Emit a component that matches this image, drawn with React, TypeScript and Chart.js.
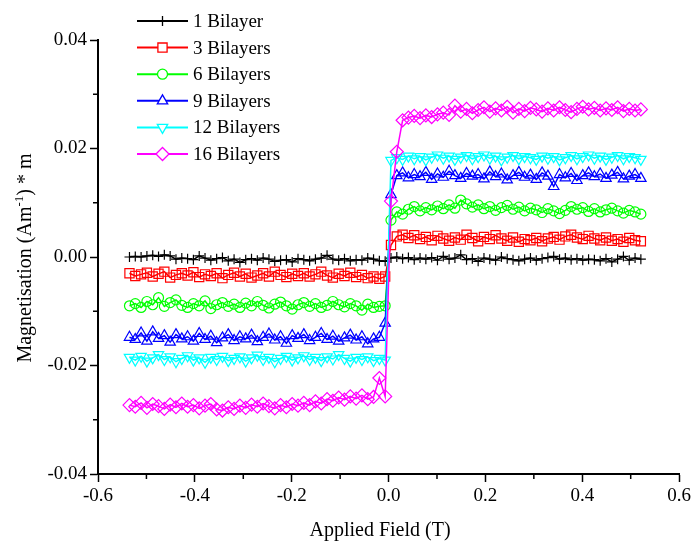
import React, { useEffect, useRef } from 'react';
import { Chart, registerables } from 'chart.js';
import { drawPoint } from 'chart.js/helpers';

Chart.register(...registerables);

const FONT = "'Liberation Serif', 'Times New Roman', serif";

const FIELD = [
  -0.535, -0.523, -0.511, -0.499, -0.487, -0.475, -0.463, -0.451, -0.439, -0.427,
  -0.415, -0.403, -0.391, -0.379, -0.367, -0.355, -0.343, -0.331, -0.319, -0.307,
  -0.295, -0.283, -0.271, -0.259, -0.247, -0.235, -0.223, -0.211, -0.199, -0.187,
  -0.175, -0.163, -0.151, -0.139, -0.127, -0.115, -0.103, -0.091, -0.079, -0.067,
  -0.055, -0.043, -0.031, -0.019, -0.007, 0.005, 0.017, 0.029, 0.041, 0.053,
  0.065, 0.077, 0.089, 0.101, 0.113, 0.125, 0.137, 0.149, 0.161, 0.173,
  0.185, 0.197, 0.209, 0.221, 0.233, 0.245, 0.257, 0.269, 0.281, 0.293,
  0.305, 0.317, 0.329, 0.341, 0.353, 0.365, 0.377, 0.389, 0.401, 0.413,
  0.425, 0.437, 0.449, 0.461, 0.473, 0.485, 0.497, 0.509, 0.521,
];

const BILAYER_1 = [
  0.0000, 0.0001, 0.0000, 0.0002, 0.0003, 0.0001, 0.0004, 0.0002, -0.0004, -0.0002,
  -0.0003, -0.0005, 0.0002, -0.0002, -0.0006, -0.0003, -0.0001, -0.0007, -0.0004, -0.0010,
  -0.0005, -0.0003, -0.0006, -0.0002, -0.0004, -0.0008, -0.0006, -0.0005, -0.0009, -0.0003,
  -0.0005, -0.0007, -0.0004, -0.0002, 0.0003, -0.0004, -0.0006, -0.0003, -0.0007, -0.0005,
  -0.0006, -0.0002, -0.0004, -0.0007, -0.0008, -0.0002, 0.0000, -0.0003, -0.0001, -0.0005,
  -0.0002, -0.0004, -0.0001, -0.0006, 0.0001, -0.0004, -0.0002, 0.0004, -0.0005, -0.0003,
  -0.0008, -0.0002, -0.0004, -0.0006, 0.0000, -0.0003, -0.0005, -0.0007, -0.0004, -0.0002,
  -0.0006, -0.0003, -0.0001, 0.0001, -0.0004, -0.0002, -0.0005, -0.0003, -0.0006, -0.0004,
  -0.0005, -0.0007, -0.0003, -0.0009, -0.0004, 0.0001, -0.0006, -0.0002, -0.0004,
];

const BILAYERS_3 = [
  -0.0030, -0.0035, -0.0032, -0.0029, -0.0036, -0.0031, -0.0027, -0.0038, -0.0033, -0.0030,
  -0.0034, -0.0028, -0.0037, -0.0032, -0.0035, -0.0030, -0.0039, -0.0033, -0.0029, -0.0036,
  -0.0031, -0.0038, -0.0034, -0.0030, -0.0036, -0.0027, -0.0033, -0.0037, -0.0031, -0.0035,
  -0.0030, -0.0036, -0.0032, -0.0027, -0.0034, -0.0038, -0.0031, -0.0035, -0.0029, -0.0037,
  -0.0033, -0.0039, -0.0036, -0.0040, -0.0036, 0.0022, 0.0038, 0.0041, 0.0035, 0.0040,
  0.0033, 0.0037, 0.0031, 0.0039, 0.0034, 0.0030, 0.0036, 0.0032, 0.0041, 0.0035,
  0.0029, 0.0037, 0.0033, 0.0040, 0.0034, 0.0030, 0.0036, 0.0028, 0.0033, 0.0031,
  0.0035, 0.0029, 0.0034, 0.0037, 0.0032, 0.0038, 0.0041, 0.0036, 0.0033, 0.0039,
  0.0034, 0.0031, 0.0036, 0.0030, 0.0033, 0.0028, 0.0035, 0.0031, 0.0029,
];

const BILAYERS_6 = [
  -0.0090, -0.0086, -0.0093, -0.0082, -0.0088, -0.0075, -0.0091, -0.0084, -0.0079, -0.0089,
  -0.0093, -0.0086, -0.0090, -0.0081, -0.0095, -0.0088, -0.0084, -0.0091, -0.0087, -0.0093,
  -0.0085, -0.0090, -0.0082, -0.0089, -0.0094, -0.0087, -0.0083, -0.0090, -0.0096, -0.0088,
  -0.0084, -0.0091, -0.0086, -0.0093, -0.0089, -0.0082, -0.0088, -0.0092, -0.0086, -0.0090,
  -0.0098, -0.0087, -0.0093, -0.0091, -0.0090, 0.0068, 0.0083, 0.0079, 0.0088, 0.0093,
  0.0085, 0.0091, 0.0087, 0.0094, 0.0089, 0.0096, 0.0090, 0.0105, 0.0098, 0.0092,
  0.0096, 0.0089, 0.0093, 0.0086, 0.0091, 0.0095, 0.0088, 0.0092, 0.0085, 0.0090,
  0.0087, 0.0082, 0.0089, 0.0085, 0.0080, 0.0086, 0.0093, 0.0088, 0.0091, 0.0084,
  0.0089, 0.0083, 0.0087, 0.0090, 0.0085, 0.0081, 0.0086, 0.0083, 0.0079,
];

const BILAYERS_9 = [
  -0.0148, -0.0152, -0.0140, -0.0155, -0.0138, -0.0150, -0.0145, -0.0157, -0.0143, -0.0151,
  -0.0147, -0.0155, -0.0141, -0.0152, -0.0146, -0.0158, -0.0149, -0.0143, -0.0154, -0.0147,
  -0.0151, -0.0144, -0.0156, -0.0148, -0.0142, -0.0153, -0.0147, -0.0159, -0.0145, -0.0150,
  -0.0143, -0.0154, -0.0148, -0.0141, -0.0152, -0.0146, -0.0155, -0.0149, -0.0144, -0.0153,
  -0.0147, -0.0160, -0.0151, -0.0148, -0.0122, 0.0115, 0.0150, 0.0155, 0.0146, 0.0152,
  0.0148, 0.0156, 0.0143, 0.0153, 0.0147, 0.0158, 0.0150, 0.0145, 0.0154, 0.0149,
  0.0152, 0.0144, 0.0157, 0.0148, 0.0153, 0.0142, 0.0150, 0.0156, 0.0147, 0.0151,
  0.0143, 0.0155, 0.0149, 0.0130, 0.0152, 0.0146, 0.0154, 0.0141, 0.0150, 0.0155,
  0.0148, 0.0153, 0.0145, 0.0151, 0.0156, 0.0144, 0.0149, 0.0152, 0.0145,
];

const BILAYERS_12 = [
  -0.0185, -0.0190, -0.0183, -0.0192, -0.0186, -0.0180, -0.0189, -0.0184, -0.0193, -0.0187,
  -0.0182, -0.0190, -0.0186, -0.0194, -0.0185, -0.0189, -0.0183, -0.0191, -0.0187, -0.0184,
  -0.0192, -0.0186, -0.0181, -0.0189, -0.0185, -0.0193, -0.0187, -0.0183, -0.0190, -0.0186,
  -0.0182, -0.0189, -0.0185, -0.0191, -0.0184, -0.0188, -0.0180, -0.0187, -0.0192, -0.0185,
  -0.0189, -0.0184, -0.0191, -0.0187, -0.0190, 0.0178, 0.0183, 0.0180, 0.0186, 0.0181,
  0.0185, 0.0179, 0.0184, 0.0188, 0.0182, 0.0186, 0.0180, 0.0184, 0.0187, 0.0181,
  0.0185, 0.0188, 0.0182, 0.0186, 0.0179, 0.0184, 0.0187, 0.0181, 0.0185, 0.0183,
  0.0180, 0.0186, 0.0182, 0.0185, 0.0179, 0.0183, 0.0187, 0.0181, 0.0185, 0.0188,
  0.0182, 0.0186, 0.0180, 0.0184, 0.0187, 0.0181, 0.0185, 0.0183, 0.0180,
];

const BILAYERS_16 = [
  -0.0273, -0.0276, -0.0269, -0.0278, -0.0271, -0.0275, -0.0280, -0.0272, -0.0277, -0.0270,
  -0.0276, -0.0273, -0.0279, -0.0274, -0.0271, -0.0281, -0.0283, -0.0277, -0.0280, -0.0274,
  -0.0278, -0.0272, -0.0276, -0.0270, -0.0275, -0.0279, -0.0273, -0.0277, -0.0271, -0.0274,
  -0.0269, -0.0273, -0.0266, -0.0270, -0.0262, -0.0265, -0.0259, -0.0263, -0.0257, -0.0261,
  -0.0255, -0.0262, -0.0258, -0.0223, -0.0257, 0.0103, 0.0194, 0.0252, 0.0257, 0.0260,
  0.0256, 0.0261, 0.0258, 0.0263, 0.0266, 0.0262, 0.0279, 0.0268, 0.0273, 0.0265,
  0.0271, 0.0276, 0.0268, 0.0274, 0.0270, 0.0277, 0.0266, 0.0273, 0.0269, 0.0275,
  0.0272, 0.0268, 0.0274, 0.0270, 0.0276, 0.0271, 0.0267, 0.0273, 0.0277, 0.0272,
  0.0275, 0.0270, 0.0274, 0.0271, 0.0276, 0.0269, 0.0273, 0.0270, 0.0272,
];

const SERIES = [BILAYER_1, BILAYERS_3, BILAYERS_6, BILAYERS_9, BILAYERS_12, BILAYERS_16];
const LABELS = ['1 Bilayer', '3 Bilayers', '6 Bilayers', '9 Bilayers', '12 Bilayers', '16 Bilayers'];
const COLORS = ['#000000', '#ff0000', '#00ff00', '#0000ff', '#00ffff', '#ff00ff'];
const POINT_STYLES = ['cross', 'rect', 'circle', 'triangle', 'triangle', 'rectRot'];
const POINT_ROTATIONS = [0, 0, 0, 0, 180, 0];
const POINT_RADII = [5, 6.5, 5, 6, 6, 6.5];

const X_TICKS = [-0.6, -0.4, -0.2, 0.0, 0.2, 0.4, 0.6];
const X_MINOR = [-0.5, -0.3, -0.1, 0.1, 0.3, 0.5];
const Y_TICKS = [-0.04, -0.02, 0.0, 0.02, 0.04];
const Y_MINOR = [-0.03, -0.01, 0.01, 0.03];

const X_TITLE = 'Applied Field (T)';
const Y_TITLE_PARTS = ['Magnetisation (Am', '-1', ') * m'];

const decorPlugin = {
  id: 'decor',
  afterDraw(chart: any) {
    const ctx = chart.ctx;
    const xs = chart.scales.x;
    const ys = chart.scales.y;
    const area = chart.chartArea;
    ctx.save();
    // minor ticks
    ctx.strokeStyle = '#000';
    ctx.lineWidth = 1.5;
    ctx.beginPath();
    X_MINOR.forEach((v) => {
      const px = xs.getPixelForValue(v);
      ctx.moveTo(px, area.bottom);
      ctx.lineTo(px, area.bottom + 5);
    });
    Y_MINOR.forEach((v) => {
      const py = ys.getPixelForValue(v);
      ctx.moveTo(area.left, py);
      ctx.lineTo(area.left - 5, py);
    });
    ctx.stroke();

    // legend
    const lx0 = 137;
    const lx1 = 188;
    const ly0 = 21;
    const dy = 26.6;
    LABELS.forEach((label, i) => {
      const y = ly0 + i * dy;
      ctx.strokeStyle = COLORS[i];
      ctx.lineWidth = 2;
      ctx.beginPath();
      ctx.moveTo(lx0, y);
      ctx.lineTo(lx1, y);
      ctx.stroke();
      ctx.fillStyle = '#ffffff';
      ctx.strokeStyle = COLORS[i];
      ctx.lineWidth = 1.3;
      drawPoint(ctx, {
        pointStyle: POINT_STYLES[i],
        radius: POINT_RADII[i],
        rotation: POINT_ROTATIONS[i],
        borderWidth: 1.3,
      } as any, (lx0 + lx1) / 2, y);
      ctx.fillStyle = '#000';
      ctx.font = `19px ${FONT}`;
      ctx.textAlign = 'left';
      ctx.textBaseline = 'middle';
      ctx.fillText(label, 193, y + 1);
    });

    // x title
    ctx.fillStyle = '#000';
    ctx.font = `20px ${FONT}`;
    ctx.textAlign = 'center';
    ctx.textBaseline = 'middle';
    ctx.fillText(X_TITLE, 380, 531);

    // y title with superscript
    ctx.save();
    ctx.translate(24, 258);
    ctx.rotate(-Math.PI / 2);
    const bigFont = `20px ${FONT}`;
    const smallFont = `13px ${FONT}`;
    ctx.font = bigFont;
    const w0 = ctx.measureText(Y_TITLE_PARTS[0]).width;
    const w2 = ctx.measureText(Y_TITLE_PARTS[2]).width;
    ctx.font = smallFont;
    const w1 = ctx.measureText(Y_TITLE_PARTS[1]).width;
    const total = w0 + w1 + w2;
    let cx = -total / 2;
    ctx.textAlign = 'left';
    ctx.textBaseline = 'alphabetic';
    ctx.font = bigFont;
    ctx.fillText(Y_TITLE_PARTS[0], cx, 7);
    cx += w0;
    ctx.font = smallFont;
    ctx.fillText(Y_TITLE_PARTS[1], cx, -1);
    cx += w1;
    ctx.font = bigFont;
    ctx.fillText(Y_TITLE_PARTS[2], cx, 7);
    ctx.restore();

    ctx.restore();
  },
};

export default function App() {
  const ref = useRef<HTMLCanvasElement | null>(null);

  useEffect(() => {
    if (!ref.current) return;
    const datasets = SERIES.map((vals, i) => ({
      label: LABELS[i],
      data: FIELD.map((x, j) => ({ x, y: vals[j] })),
      borderColor: COLORS[i],
      backgroundColor: 'transparent',
      borderWidth: 1.5,
      pointStyle: POINT_STYLES[i],
      pointRotation: POINT_ROTATIONS[i],
      pointRadius: POINT_RADII[i],
      pointBorderWidth: 1.2,
      pointBorderColor: COLORS[i],
      pointBackgroundColor: 'transparent',
      order: 5 - i,
      tension: 0,
    }));

    const fmtX = (v: number) => (Math.abs(v) < 1e-9 ? '0.0' : v.toFixed(1));
    const fmtY = (v: number) => (Math.abs(v) < 1e-9 ? '0.00' : v.toFixed(2));

    const chart = new Chart(ref.current, {
      type: 'line',
      data: { datasets } as any,
      plugins: [decorPlugin],
      options: {
        animation: false,
        responsive: false,
        maintainAspectRatio: false,
        layout: { padding: { left: 0, right: 13, top: 40, bottom: 0 } },
        plugins: { legend: { display: false }, tooltip: { enabled: false }, title: { display: false } },
        scales: {
          x: {
            type: 'linear',
            min: -0.6,
            max: 0.6,
            afterBuildTicks: (s: any) => {
              s.ticks = X_TICKS.map((v) => ({ value: v }));
            },
            afterFit: (s: any) => {
              s.height = 69;
            },
            ticks: {
              callback: (v: any) => fmtX(Number(v)),
              font: { family: FONT, size: 19 },
              color: '#000',
              padding: 3,
              maxRotation: 0,
              autoSkip: false,
            },
            grid: { drawOnChartArea: false, drawTicks: true, tickLength: 8, tickWidth: 1.5, tickColor: '#000' },
            border: { display: true, color: '#000', width: 2 },
          },
          y: {
            type: 'linear',
            min: -0.04,
            max: 0.04,
            afterBuildTicks: (s: any) => {
              s.ticks = Y_TICKS.map((v) => ({ value: v }));
            },
            afterFit: (s: any) => {
              s.width = 98;
            },
            ticks: {
              callback: (v: any) => fmtY(Number(v)),
              font: { family: FONT, size: 19 },
              color: '#000',
              padding: 3,
              autoSkip: false,
            },
            grid: { drawOnChartArea: false, drawTicks: true, tickLength: 8, tickWidth: 1.5, tickColor: '#000' },
            border: { display: true, color: '#000', width: 2 },
          },
        },
      } as any,
    });
    return () => chart.destroy();
  }, []);

  return (
    <div style={{ position: 'fixed', left: 0, top: 0, width: 694, height: 543, background: '#fff' }}>
      <canvas ref={ref} width={694} height={543} style={{ display: 'block' }} />
    </div>
  );
}
